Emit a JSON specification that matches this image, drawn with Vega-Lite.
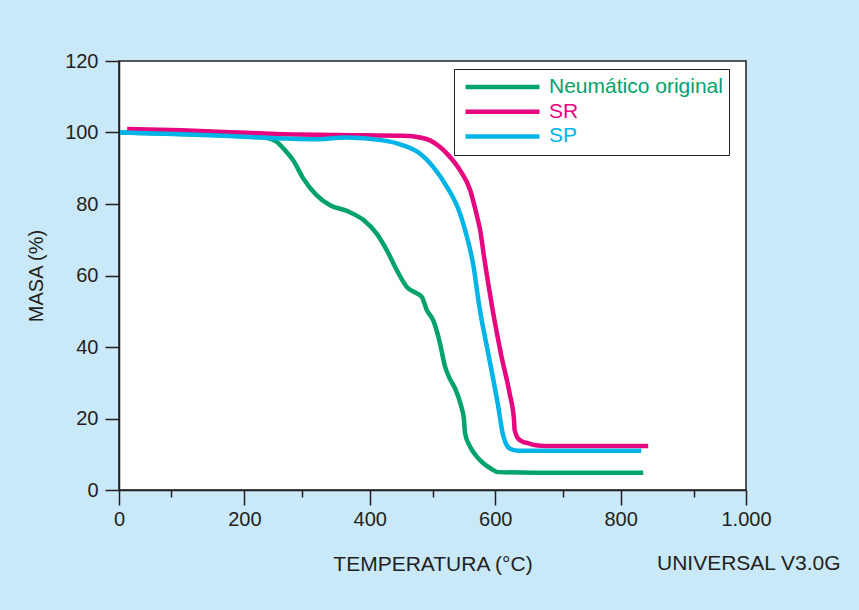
{
  "$schema": "https://vega.github.io/schema/vega-lite/v6.json",
  "autosize": {"type": "none"},
  "width": 627,
  "height": 429,
  "padding": {"left": 119, "top": 61, "right": 113, "bottom": 120},
  "background": "#c9e9f8",
  "config": {
    "font": "Liberation Sans",
    "view": {"fill": "white", "stroke": "#231f20", "strokeWidth": 1.5},
    "axis": {
      "domainColor": "#231f20", "domainWidth": 1.5,
      "tickColor": "#231f20", "tickWidth": 1.5,
      "labelColor": "#231f20", "labelFont": "Liberation Sans", "labelFontSize": 20,
      "titleColor": "#231f20", "titleFont": "Liberation Sans", "titleFontSize": 21, "titleFontWeight": "normal",
      "grid": false, "labelOverlap": false, "labelFlush": false, "labelBound": false
    }
  },
  "data": {"values": [
    {"s": "Neumático original", "t": 1.6, "m": 100},
    {"s": "Neumático original", "t": 100, "m": 99.6},
    {"s": "Neumático original", "t": 193, "m": 99},
    {"s": "Neumático original", "t": 238, "m": 98.4},
    {"s": "Neumático original", "t": 250, "m": 97.6},
    {"s": "Neumático original", "t": 265, "m": 95},
    {"s": "Neumático original", "t": 278, "m": 92.2},
    {"s": "Neumático original", "t": 294, "m": 87.1},
    {"s": "Neumático original", "t": 315, "m": 82.5},
    {"s": "Neumático original", "t": 336, "m": 79.7},
    {"s": "Neumático original", "t": 363, "m": 78.1},
    {"s": "Neumático original", "t": 390, "m": 75.5},
    {"s": "Neumático original", "t": 411, "m": 71.7},
    {"s": "Neumático original", "t": 427, "m": 67.1},
    {"s": "Neumático original", "t": 443, "m": 61.5},
    {"s": "Neumático original", "t": 459, "m": 56.8},
    {"s": "Neumático original", "t": 475, "m": 55},
    {"s": "Neumático original", "t": 483, "m": 54},
    {"s": "Neumático original", "t": 491, "m": 50.3},
    {"s": "Neumático original", "t": 501, "m": 47.5},
    {"s": "Neumático original", "t": 512, "m": 41},
    {"s": "Neumático original", "t": 520, "m": 34.5},
    {"s": "Neumático original", "t": 528, "m": 31},
    {"s": "Neumático original", "t": 536, "m": 28.4},
    {"s": "Neumático original", "t": 546, "m": 23.3},
    {"s": "Neumático original", "t": 550, "m": 20},
    {"s": "Neumático original", "t": 552, "m": 15.8},
    {"s": "Neumático original", "t": 560, "m": 12.1},
    {"s": "Neumático original", "t": 570, "m": 9.5},
    {"s": "Neumático original", "t": 581, "m": 7.5},
    {"s": "Neumático original", "t": 593, "m": 6},
    {"s": "Neumático original", "t": 605, "m": 5.0},
    {"s": "Neumático original", "t": 700, "m": 4.8},
    {"s": "Neumático original", "t": 836, "m": 4.8},
    {"s": "SR", "t": 13, "m": 101},
    {"s": "SR", "t": 100, "m": 100.6},
    {"s": "SR", "t": 177, "m": 100.1},
    {"s": "SR", "t": 250, "m": 99.6},
    {"s": "SR", "t": 350, "m": 99.3},
    {"s": "SR", "t": 464, "m": 99.0},
    {"s": "SR", "t": 480, "m": 98.6},
    {"s": "SR", "t": 496, "m": 97.8},
    {"s": "SR", "t": 510, "m": 96.2},
    {"s": "SR", "t": 523, "m": 94.1},
    {"s": "SR", "t": 544, "m": 89.4},
    {"s": "SR", "t": 560, "m": 83.9},
    {"s": "SR", "t": 570, "m": 77.3},
    {"s": "SR", "t": 576, "m": 72.7},
    {"s": "SR", "t": 583, "m": 64.3},
    {"s": "SR", "t": 596, "m": 50.3},
    {"s": "SR", "t": 609, "m": 38.2},
    {"s": "SR", "t": 623, "m": 27.0},
    {"s": "SR", "t": 630, "m": 19.6},
    {"s": "SR", "t": 631, "m": 16.8},
    {"s": "SR", "t": 636, "m": 14.5},
    {"s": "SR", "t": 644, "m": 13.5},
    {"s": "SR", "t": 652, "m": 13.1},
    {"s": "SR", "t": 665, "m": 12.5},
    {"s": "SR", "t": 679, "m": 12.3},
    {"s": "SR", "t": 844, "m": 12.3},
    {"s": "SP", "t": 1.6, "m": 100},
    {"s": "SP", "t": 100, "m": 99.5},
    {"s": "SP", "t": 177, "m": 99},
    {"s": "SP", "t": 250, "m": 98.4},
    {"s": "SP", "t": 309, "m": 98.1},
    {"s": "SP", "t": 363, "m": 98.6},
    {"s": "SP", "t": 421, "m": 97.8},
    {"s": "SP", "t": 453, "m": 96.4},
    {"s": "SP", "t": 480, "m": 94.1},
    {"s": "SP", "t": 501, "m": 90.4},
    {"s": "SP", "t": 523, "m": 84.8},
    {"s": "SP", "t": 544, "m": 77.3},
    {"s": "SP", "t": 555, "m": 70.8},
    {"s": "SP", "t": 565, "m": 63},
    {"s": "SP", "t": 575, "m": 51},
    {"s": "SP", "t": 591, "m": 36.3},
    {"s": "SP", "t": 604, "m": 24.2},
    {"s": "SP", "t": 612, "m": 15.8},
    {"s": "SP", "t": 620, "m": 12.1},
    {"s": "SP", "t": 628, "m": 11.2},
    {"s": "SP", "t": 636, "m": 11.0},
    {"s": "SP", "t": 833, "m": 11.0}
  ]},
  "layer": [
    {
      "mark": {"type": "line", "strokeWidth": 4.5, "interpolate": "monotone", "strokeCap": "butt"},
      "encoding": {
        "x": {
          "field": "t", "type": "quantitative",
          "scale": {"domain": [0, 1000], "nice": false, "zero": false},
          "axis": {
            "title": "TEMPERATURA (°C)",
            "values": [0, 83.3, 200, 291.7, 400, 500, 600, 708.3, 800, 916.7, 1000],
            "format": "d",
            "tickSize": {"condition": {"test": "datum.value % 200 === 0", "value": 15}, "value": 7},
            "labelExpr": "datum.value === 1000 ? '1.000' : (datum.value % 200 === 0 ? datum.label : '')",
            "labelPadding": 4,
            "titlePadding": 24
          }
        },
        "y": {
          "field": "m", "type": "quantitative",
          "scale": {"domain": [0, 120], "nice": false, "zero": false},
          "axis": {
            "title": "MASA (%)",
            "titleFontSize": 20,
            "values": [0, 10, 20, 30, 40, 50, 60, 70, 80, 90, 100, 110, 120],
            "format": "d",
            "tickSize": {"condition": {"test": "datum.value % 20 === 0", "value": 14}, "value": 8},
            "labelExpr": "datum.value % 20 === 0 ? datum.label : ''",
            "labelPadding": 7,
            "titlePadding": 18
          }
        },
        "color": {
          "field": "s", "type": "nominal",
          "scale": {"domain": ["Neumático original", "SR", "SP"], "range": ["#00a36a", "#e6067f", "#00b4e8"]},
          "legend": {
            "title": null,
            "orient": "none", "legendX": 335, "legendY": 8,
            "symbolType": "stroke", "symbolSize": 5476, "symbolStrokeWidth": 4.5,
            "labelFontSize": 21, "labelFont": "Liberation Sans", "labelLimit": 400,
            "strokeColor": "#231f20", "fillColor": "white",
            "padding": 6, "clipHeight": 24, "rowPadding": 0.7,
            "symbolOffset": 3, "labelOffset": 7,
            "encode": {"labels": {"update": {"fill": {"scale": "color", "field": "value"}}}}
          }
        }
      }
    },
    {
      "data": {"values": [{"label": "UNIVERSAL V3.0G"}]},
      "mark": {"type": "text", "align": "left", "baseline": "middle", "fontSize": 21, "font": "Liberation Sans", "color": "#231f20"},
      "encoding": {
        "text": {"field": "label"},
        "x": {"datum": 858},
        "y": {"datum": -20.7}
      }
    }
  ]
}
